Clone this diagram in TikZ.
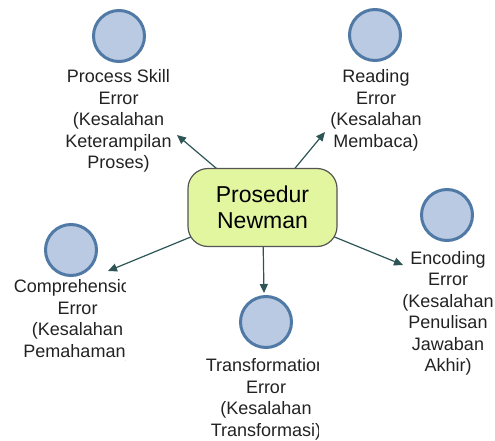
\documentclass[tikz,border=0pt]{standalone}
\usepackage{fontspec}
\setmainfont{Liberation Sans}
\usetikzlibrary{arrows.meta,backgrounds}
\definecolor{circfill}{RGB}{185,202,226}
\definecolor{circdraw}{RGB}{80,122,165}
\definecolor{boxfill}{RGB}{226,246,160}
\definecolor{boxdraw}{RGB}{85,85,85}
\definecolor{arrowc}{RGB}{45,85,85}
\definecolor{txt}{RGB}{34,34,34}
\begin{document}
\begin{tikzpicture}[x=1pt,y=-1pt,
  circ/.style={circle, draw=circdraw, fill=circfill, line width=3pt, minimum size=51pt, inner sep=0pt},
  lbl/.style={anchor=north, inner sep=0pt, align=center, text=txt, font=\fontsize{18}{21.5}\selectfont},
  conn/.style={draw=arrowc, line width=1.2pt, -{Triangle[length=9pt,width=8pt]}},
  mainbox/.style={rectangle, rounded corners=20pt, draw=boxdraw, fill=boxfill, line width=1.2pt,
    minimum width=149pt, minimum height=78pt, align=center, text=black,
    font=\fontsize{23}{26.5}\selectfont}]
\useasboundingbox (0,0) rectangle (495,441);

\node[mainbox] (c) at (262.5,207.5) {Prosedur\\Newman};

\node[circ] (ps) at (119,36) {};
\node[circ] (rd) at (375,35) {};
\node[circ] (cp) at (71,250) {};
\node[circ] (tf) at (266,322) {};
\node[circ] (en) at (447,215) {};

\node[lbl] (psT) at (118.5,69.5) {Process Skill\\Error\\(Kesalahan\\Keterampilan\\Proses)};
\node[lbl] (rdT) at (376,69.5) {Reading\\Error\\(Kesalahan\\Membaca)};
\begin{scope}
  \clip (0,270) rectangle (125,441);
  \node[lbl] (cpT) at (77.5,279.5) {Comprehension\\Error\\(Kesalahan\\Pemahaman)};
\end{scope}
\begin{scope}
  \clip (150,340) rectangle (318,441);
  \node[lbl] (tfT) at (266,358.5) {Transformation\\Error\\(Kesalahan\\Transformasi)};
\end{scope}
\node[lbl] (enT) at (448,251) {Encoding\\Error\\(Kesalahan\\Penulisan\\Jawaban\\Akhir)};

\coordinate (psA) at (177,135);
\coordinate (rdA) at (325,132);
\coordinate (cpA) at (108,271);
\coordinate (tfA) at (264,293);
\coordinate (enA) at (403,265);

\begin{scope}[on background layer]
  \draw[conn] (c.center) -- (psA);
  \draw[conn] (c.center) -- (rdA);
  \draw[conn] (c.center) -- (cpA);
  \draw[conn] (c.center) -- (tfA);
  \draw[conn] (c.center) -- (enA);
\end{scope}
\end{tikzpicture}
\end{document}
